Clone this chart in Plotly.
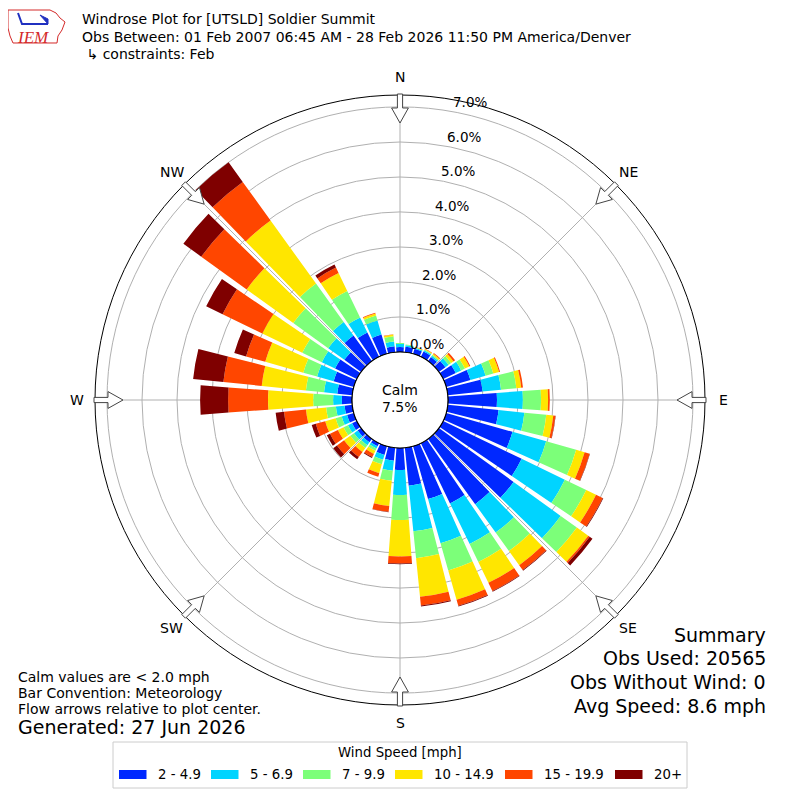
#windrose for Soldier Summit, february obs

import math
import plotly.graph_objects as go

# wind direction bins (deg, direction wind blows from)
directions = list(range(0, 360, 10))

speed_bins = ["2 - 4.9", "5 - 6.9", "7 - 9.9", "10 - 14.9", "15 - 19.9", "20+"]
bin_colors = ["#0028ff", "#00d4ff", "#7cff79", "#ffe600", "#ff4600", "#7f0000"]

# percent of obs per direction, one list per speed bin
pct_2_5 = [0.14, 0.16, 0.15, 0.17, 0.14, 0.23, 0.40, 0.72, 1.00, 1.40, 1.46, 1.97,
           2.49, 2.63, 2.30, 1.91, 1.57, 1.09, 0.63, 0.37, 0.26, 0.10, 0.12, 0.12,
           0.15, 0.20, 0.22, 0.29, 0.43, 0.60, 0.69, 0.59, 0.90, 0.77, 0.57, 0.17]
pct_5_7 = [0.09, 0.04, 0.03, 0.04, 0.05, 0.11, 0.17, 0.45, 0.53, 0.74, 0.74, 1.00,
           1.37, 1.66, 1.00, 1.29, 1.31, 1.31, 0.71, 0.29, 0.14, 0.07, 0.10, 0.13,
           0.13, 0.16, 0.25, 0.25, 0.38, 0.49, 0.42, 0.57, 0.48, 0.48, 0.42, 0.14]
pct_7_10 = [0.03, 0.02, 0.01, 0.02, 0.03, 0.09, 0.12, 0.23, 0.44, 0.52, 0.63, 0.89,
            0.68, 0.57, 0.65, 0.57, 0.81, 0.77, 0.72, 0.29, 0.14, 0.07, 0.10, 0.13,
            0.14, 0.18, 0.28, 0.57, 0.52, 0.41, 0.62, 1.23, 1.35, 0.84, 0.15, 0.15]
pct_10_15 = [0.00, 0.00, 0.01, 0.02, 0.04, 0.08, 0.14, 0.17, 0.14, 0.20, 0.20, 0.25,
             0.31, 0.40, 0.50, 0.66, 0.87, 1.11, 1.04, 0.72, 0.26, 0.10, 0.14, 0.22,
             0.18, 0.31, 0.58, 1.29, 1.27, 1.13, 1.27, 1.64, 2.22, 0.57, 0.06, 0.05]
pct_15_20 = [0.00, 0.00, 0.01, 0.01, 0.02, 0.06, 0.03, 0.03, 0.05, 0.05, 0.06, 0.15,
             0.21, 0.05, 0.17, 0.26, 0.18, 0.25, 0.20, 0.17, 0.11, 0.10, 0.18, 0.25,
             0.25, 0.28, 0.63, 1.14, 1.10, 0.57, 1.26, 1.60, 1.36, 0.17, 0.02, 0.01]
pct_20p = [0.00, 0.00, 0.00, 0.00, 0.00, 0.00, 0.00, 0.00, 0.00, 0.00, 0.01, 0.01,
           0.02, 0.10, 0.02, 0.02, 0.02, 0.03, 0.02, 0.01, 0.00, 0.03, 0.08, 0.13,
           0.10, 0.12, 0.24, 0.80, 0.87, 0.35, 0.52, 0.63, 0.69, 0.10, 0.00, 0.00]

ring_vals = [0, 1, 2, 3, 4, 5, 6, 7]
compass_deg = [0, 45, 90, 135, 180, 225, 270, 315]
compass_lbl = ["N", "NE", "E", "SE", "S", "SW", "W", "NW"]

FONT = "DejaVu Sans"
OFF = 8          # page margin of the html body
W = H = 800 - OFF
CX, CY = 400, 400  # page px
R_OUT = 305      # outer circle, px
R_CALM = 48      # calm circle, px
PX_PER_PCT = 35


def px(x, y):
        # page pixel -> paper coords
        return (x - OFF) / W, 1 - (y - OFF) / H


def polar_px(t, r):
        a = math.radians(t)
        return CX + r * math.sin(a), CY - r * math.cos(a)


def path_of(points, close=True):
        out = []
        for x, y in points:
                a, b = px(x, y)
                out.append(f"{a:.5f},{b:.5f}")
        return "M" + " L".join(out) + (" Z" if close else "")


def arrow_path(t):
        a = math.radians(t)
        ux, uy = math.sin(a), -math.cos(a)
        vx, vy = math.cos(a), math.sin(a)
        pts = [(306, -2.6), (292, -2.6), (292, -8.4), (277, 0), (292, 8.4), (292, 2.6), (306, 2.6)]
        return path_of([(CX + r * ux + s * vx, CY + r * uy + s * vy) for r, s in pts])


def main():
        fig = go.Figure()
        series = [pct_2_5, pct_5_7, pct_7_10, pct_10_15, pct_15_20, pct_20p]
        for name, col, vals in zip(speed_bins, bin_colors, series):
                fig.add_trace(go.Barpolar(r=vals, theta=directions, width=8.4, name=name,
                                          marker=dict(color=col, line=dict(width=0)),
                                          showlegend=False))

        r_max = (R_OUT - R_CALM) / PX_PER_PCT
        dx0, dy1 = px(CX - R_OUT, CY - R_OUT)
        dx1, dy0 = px(CX + R_OUT, CY + R_OUT)
        fig.update_layout(
                width=W, height=H, margin=dict(l=0, r=0, t=0, b=0),
                paper_bgcolor="white", font=dict(family=FONT, color="black"),
                polar=dict(
                        domain=dict(x=[dx0, dx1], y=[dy0, dy1]),
                        hole=R_CALM / R_OUT, bgcolor="white", barmode="stack",
                        radialaxis=dict(range=[0, r_max], tickvals=ring_vals,
                                        showticklabels=False, showline=False, ticks="",
                                        gridcolor="#b0b0b0", layer="above traces"),
                        angularaxis=dict(direction="clockwise", rotation=90,
                                         tickvals=compass_deg, showticklabels=False,
                                         showline=True, linecolor="black", linewidth=1,
                                         gridcolor="#b0b0b0", ticks="",
                                         layer="above traces"),
                ),
        )

        shapes = []
        x0, y1 = px(CX - R_CALM, CY - R_CALM)
        x1, y0 = px(CX + R_CALM, CY + R_CALM)
        shapes.append(dict(type="circle", xref="paper", yref="paper", x0=x0, x1=x1, y0=y0, y1=y1,
                           line=dict(color="black", width=1.2), fillcolor="white"))
        for t in compass_deg:
                shapes.append(dict(type="path", xref="paper", yref="paper", path=arrow_path(t),
                                   fillcolor="white", line=dict(color="#444", width=1)))

        # rough IEM logo: state outline + wind barb
        logo = [(8, 10), (50, 10), (56, 13), (60, 18), (65, 22), (62, 30), (58, 36),
                (57, 43), (13, 43), (10, 36), (8, 28)]
        shapes.append(dict(type="path", xref="paper", yref="paper", path=path_of(logo),
                           line=dict(color="#d42a2a", width=1)))
        shapes.append(dict(type="path", xref="paper", yref="paper",
                           path=path_of([(18, 13), (22, 24), (48, 24)], close=False),
                           line=dict(color="#2030c0", width=2)))
        shapes.append(dict(type="path", xref="paper", yref="paper",
                           path=path_of([(40, 15), (48, 19), (48, 24)]),
                           fillcolor="#2030c0", line=dict(color="#2030c0", width=1)))

        # legend box, drawn by hand to get the wide swatches
        lx0, ly0 = px(113, 742)
        lx1, ly1 = px(687, 788)
        shapes.append(dict(type="rect", xref="paper", yref="paper", x0=lx0, x1=lx1, y0=ly1, y1=ly0,
                           line=dict(color="#cccccc", width=1), fillcolor="white"))
        sw_x = [119, 211, 303, 395, 505, 615]
        for sx, col in zip(sw_x, bin_colors):
                a, b = px(sx, 770)
                c, d = px(sx + 27.5, 779)
                shapes.append(dict(type="rect", xref="paper", yref="paper", x0=a, x1=c, y0=d, y1=b,
                                   line=dict(width=0), fillcolor=col))
        fig.update_layout(shapes=shapes)

        ann = []

        def text(x, y, s, size, anchor="left", color="black", family=FONT, yanchor="middle"):
                xx, yy = px(x, y)
                ann.append(dict(x=xx, y=yy, xref="paper", yref="paper", text=s, showarrow=False,
                                xanchor=anchor, yanchor=yanchor,
                                font=dict(size=size, color=color, family=family)))

        # ring labels along the 10 deg ray
        for v in ring_vals:
                lx, ly = polar_px(10, R_CALM + v * PX_PER_PCT)
                text(lx, ly + 1, f"{v:.1f}%", 13.5, yanchor="bottom")

        # compass labels outside the outer circle
        for t, lbl in zip(compass_deg, compass_lbl):
                lx, ly = polar_px(t, R_OUT + 18)
                text(lx, ly, lbl, 14, anchor="center")

        text(80, 19, "Windrose Plot for [UTSLD] Soldier Summit", 14)
        text(80, 37, "Obs Between: 01 Feb 2007 06:45 AM - 28 Feb 2026 11:50 PM America/Denver", 14)
        text(80, 54, " \u21b3 constraints: Feb", 14)
        text(15, 37, "<i>IEM</i>", 17, color="#d42a2a", family="Liberation Serif")

        text(400, 390, "Calm", 14, anchor="center")
        text(400, 407, "7.5%", 14, anchor="center")

        text(16, 677, "Calm values are < 2.0 mph", 14)
        text(16, 693, "Bar Convention: Meteorology", 14)
        text(16, 709, "Flow arrows relative to plot center.", 14)
        text(16, 727, "Generated: 27 Jun 2026", 19)

        text(768, 635, "Summary", 19, anchor="right")
        text(768, 658, "Obs Used: 20565", 19, anchor="right")
        text(768, 682, "Obs Without Wind: 0", 19, anchor="right")
        text(768, 706, "Avg Speed: 8.6 mph", 19, anchor="right")

        text(400, 752, "Wind Speed [mph]", 13.3, anchor="center")
        for sx, name in zip(sw_x, speed_bins):
                text(sx + 37, 774, name, 13.3)

        fig.update_layout(annotations=ann)
        fig.write_html("out.html")


if __name__ == '__main__':
        main()
